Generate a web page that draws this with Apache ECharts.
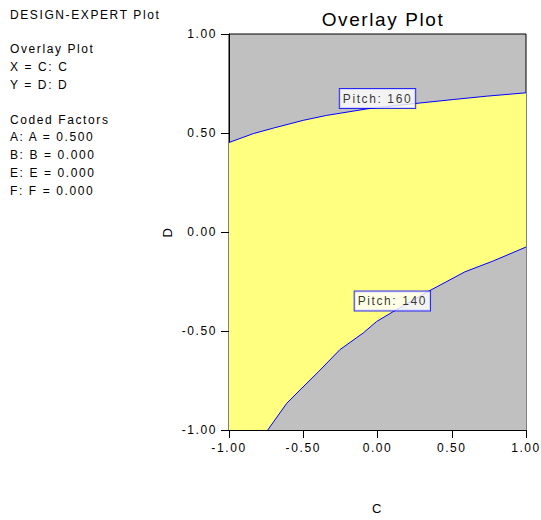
<!DOCTYPE html>
<html>
<head>
<meta charset="utf-8">
<script src="https://cdn.jsdelivr.net/npm/echarts@6/dist/echarts.min.js"></script>
<style>
  html, body { margin: 0; padding: 0; background: #fff; }
  #chart { width: 541px; height: 520px; }
  /* the original export spaces its letters out a bit */
  #chart text { letter-spacing: 1.6px; }
</style>
</head>
<body>
<div id="chart"></div>
<script>
// Pitch = 160 contour, [C, D]
const pitch160 = [
  [-1.0, 0.452], [-0.836, 0.497], [-0.70, 0.525], [-0.50, 0.564],
  [-0.342, 0.589], [-0.25, 0.600], [-0.07, 0.622], [0.241, 0.648],
  [0.51, 0.669], [0.735, 0.686], [1.0, 0.703]
];
// Pitch = 140 contour, [C, D]
const pitch140 = [
  [-0.739, -1.0], [-0.611, -0.865], [-0.522, -0.798], [-0.398, -0.706],
  [-0.253, -0.594], [-0.096, -0.510], [-0.006, -0.452], [0.106, -0.402],
  [0.342, -0.300], [0.589, -0.201], [0.78, -0.146], [1.0, -0.076]
];
const contourLabels = [
  { text: 'Pitch: 160', at: [0.0, 0.674] },
  { text: 'Pitch: 140', at: [0.10, -0.348] }
];
const infoLines = [
  ['DESIGN-EXPERT Plot', 16],
  ['Overlay Plot', 50],
  ['X = C: C', 68],
  ['Y = D: D', 86],
  ['Coded Factors', 121],
  ['A: A = 0.500', 138],
  ['B: B = 0.000', 156],
  ['E: E = 0.000', 174],
  ['F: F = 0.000', 192]
];

const font = '"Liberation Sans", Arial, sans-serif';
const chart = echarts.init(document.getElementById('chart'), null, { renderer: 'svg' });

const axisCommon = {
  type: 'value',
  min: -1,
  max: 1,
  interval: 0.5,
  splitLine: { show: false },
  axisLine: { show: true, onZero: false, lineStyle: { color: '#000', width: 1 } },
  axisTick: { show: true, length: 8, lineStyle: { color: '#000' } },
  axisLabel: {
    color: '#000',
    fontSize: 12,
    fontFamily: font,
    margin: 12,
    formatter: v => v.toFixed(2)
  }
};

chart.setOption({
  animation: false,
  backgroundColor: '#fff',
  title: {
    text: 'Overlay Plot',
    left: 378,
    textAlign: 'center',
    top: 5,
    textStyle: { fontSize: 19, fontWeight: 'normal', color: '#000', fontFamily: font }
  },
  grid: {
    left: 229, right: 15, top: 34, bottom: 87,
    show: true,
    backgroundColor: '#c0c0c0',
    borderColor: '#000',
    borderWidth: 1
  },
  xAxis: Object.assign({}, axisCommon, {
    name: 'C',
    nameLocation: 'middle',
    nameGap: 72,
    nameTextStyle: { color: '#000', fontSize: 13, fontFamily: font }
  }),
  yAxis: Object.assign({}, axisCommon, {
    name: 'D',
    nameLocation: 'middle',
    nameGap: 55,
    nameRotate: 90,
    nameTextStyle: { color: '#000', fontSize: 13, fontFamily: font }
  }),
  graphic: infoLines.map(([t, y]) => ({
    type: 'text',
    left: 10,
    top: y - 7,
    style: { text: t, fill: '#000', font: '12px ' + font }
  })),
  series: [
    {
      type: 'line',
      data: pitch160,
      symbol: 'none',
      smooth: false,
      lineStyle: { color: '#0000ff', width: 1 },
      areaStyle: { color: '#ffff80', opacity: 1, origin: 'start' },
      z: 2
    },
    {
      type: 'line',
      data: pitch140,
      symbol: 'none',
      smooth: false,
      lineStyle: { color: '#0000ff', width: 1 },
      areaStyle: { color: '#c0c0c0', opacity: 1, origin: 'start' },
      z: 3
    },
    {
      type: 'scatter',
      symbolSize: 0,
      z: 5,
      data: contourLabels.map(l => ({ value: l.at, name: l.text })),
      label: {
        show: true,
        position: 'inside',
        formatter: p => p.name,
        color: '#000',
        fontSize: 12,
        fontFamily: font,
        backgroundColor: '#fff',
        borderColor: '#0000ff',
        borderWidth: 1,
        padding: [4, 11, 3, 11]
      }
    }
  ]
});
</script>
</body>
</html>
